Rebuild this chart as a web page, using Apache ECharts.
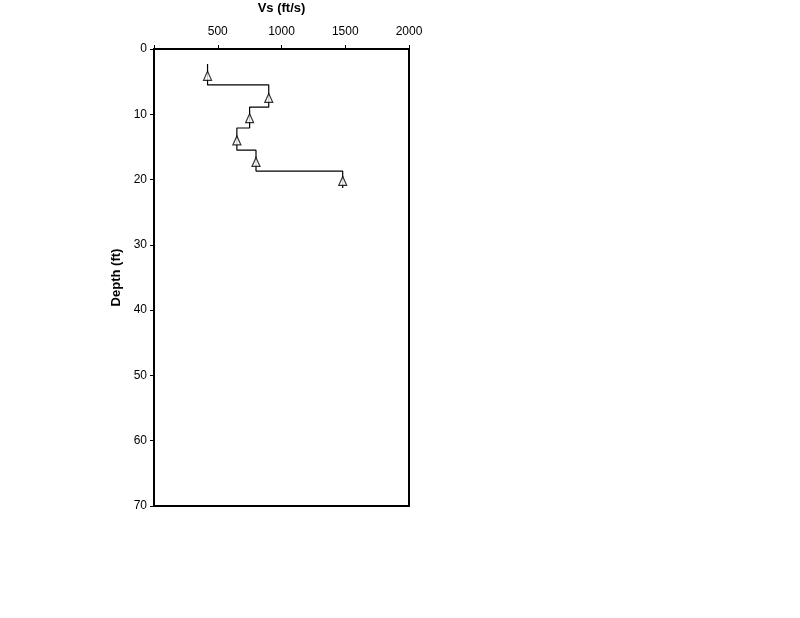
<!DOCTYPE html>
<html><head><meta charset="utf-8">
<script src="https://cdn.jsdelivr.net/npm/echarts@6/dist/echarts.min.js"></script>
<style>html,body{margin:0;padding:0;background:#fff}#c{width:800px;height:618px}</style>
</head><body><div id="c"></div>
<script>
// Layered velocity profile (step line)
const layerTop = [2.3, 5.5, 8.9, 12.1, 15.5, 18.7];
const layerBottom = [5.5, 8.9, 12.1, 15.5, 18.7, 21.3];
const layerVs = [420, 900, 750, 650, 800, 1480];
// Measurement points (triangles)
const pointVs = [420, 900, 750, 650, 800, 1480];
const pointDepth = [4.1, 7.5, 10.6, 14.0, 17.3, 20.2];
const xTicks = [0, 500, 1000, 1500, 2000];
const yTicks = [0, 10, 20, 30, 40, 50, 60, 70];

const stepData = [];
layerVs.forEach((v, i) => { stepData.push([v, layerTop[i]]); stepData.push([v, layerBottom[i]]); });
const pts = pointVs.map((v, i) => [v, pointDepth[i]]);

const chart = echarts.init(document.getElementById('c'));
const font = 'Liberation Sans, Arial, sans-serif';
chart.setOption({
  backgroundColor: '#fff',
  animation: false,
  grid: { left: 154, right: 391, top: 49, bottom: 112, outerBoundsMode: 'none', containLabel: false, show: true, borderColor: '#000', borderWidth: 2, backgroundColor: 'transparent' },
  xAxis: {
    type: 'value', position: 'top', min: xTicks[0], max: xTicks[xTicks.length - 1], interval: 500,
    name: 'Vs (ft/s)', nameLocation: 'middle', nameGap: 34,
    nameTextStyle: { fontFamily: font, fontSize: 13, fontWeight: 'bold', color: '#000' },
    axisLine: { show: true, lineStyle: { color: '#000', width: 2 } },
    axisTick: { show: true, length: 4, lineStyle: { color: '#000', width: 1 } },
    axisLabel: { margin: 11, fontFamily: font, fontSize: 12, color: '#000', formatter: v => v === 0 ? '' : String(v) },
    splitLine: { show: false }
  },
  yAxis: {
    type: 'value', inverse: true, min: yTicks[0], max: yTicks[yTicks.length - 1], interval: 10,
    name: 'Depth (ft)', nameLocation: 'middle', nameGap: 31, nameRotate: 90,
    nameTextStyle: { fontFamily: font, fontSize: 13, fontWeight: 'bold', color: '#000' },
    axisLine: { show: true, lineStyle: { color: '#000', width: 2 } },
    axisTick: { show: true, length: 4, lineStyle: { color: '#000', width: 1 } },
    axisLabel: { margin: 7, fontFamily: font, fontSize: 12, color: '#000' },
    splitLine: { show: false }
  },
  series: [
    { type: 'line', data: stepData, showSymbol: false, symbol: 'none', lineStyle: { color: '#000', width: 1.2 }, z: 2 },
    { type: 'scatter', data: pts, symbol: 'triangle', symbolSize: [8, 9], itemStyle: { color: '#fff', borderColor: '#000', borderWidth: 1.2 }, z: 3 }
  ]
});
</script></body></html>
